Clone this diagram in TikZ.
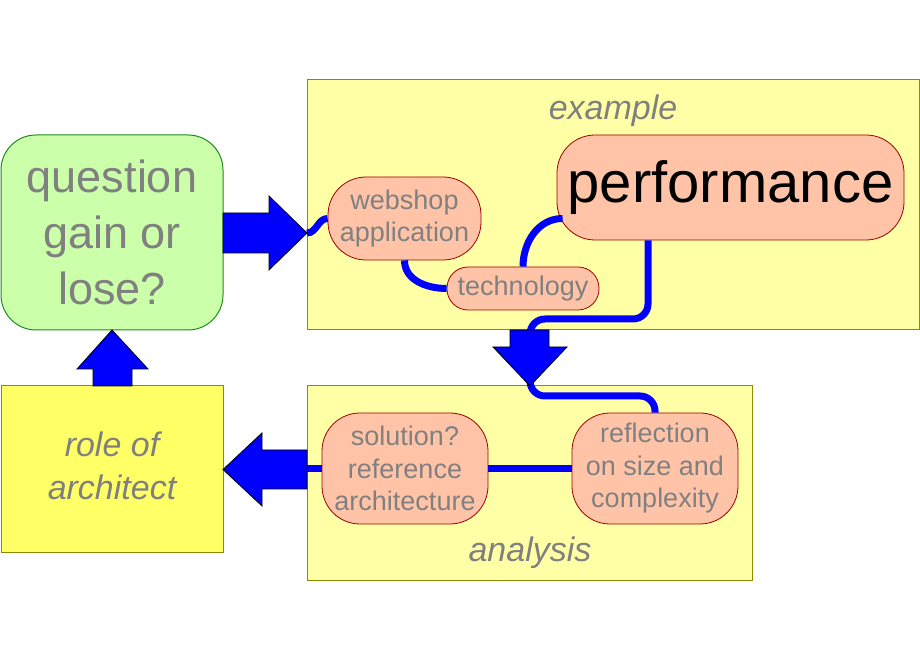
\documentclass[tikz,border=0pt]{standalone}
\usepackage{fontspec}
\setmainfont{Liberation Sans}
\usetikzlibrary{calc,positioning}
\definecolor{WireBlue}{HTML}{0000FF}
\definecolor{TextGray}{HTML}{808080}
\definecolor{QuestGreen}{HTML}{CCFFAA}
\definecolor{QuestEdge}{HTML}{1E8C1E}
\definecolor{PanelYellow}{HTML}{FFFFA5}
\definecolor{RoleYellow}{HTML}{FFFF66}
\definecolor{PanelEdge}{HTML}{8C8C00}
\definecolor{TopicFill}{HTML}{FFC4A8}
\definecolor{TopicEdge}{HTML}{A00000}
\tikzset{
  panel/.style={draw=PanelEdge,fill=PanelYellow,line width=1pt,inner sep=0pt},
  topic/.style={draw=TopicEdge,fill=TopicFill,line width=0.8pt,inner sep=0pt,align=center,
    text=TextGray,font=\fontsize{27}{32.5}\selectfont,rounded corners=38pt},
  wire/.style={WireBlue,line width=7pt},
  blockarrow/.style={fill=WireBlue,draw=black,line width=0.8pt,line join=miter},
}

\begin{document}
\begin{tikzpicture}[x=1pt,y=1pt]
  \useasboundingbox (0,0) rectangle (920,660);
  % --- panels ---
  \node[panel,minimum width=612pt,minimum height=250pt] (ex) at (613,455) {};
  \node[panel,minimum width=445pt,minimum height=195pt] (an) at (529.5,176.5) {};
  \node[font=\fontsize{34}{40}\selectfont\itshape,text=TextGray] (exlabel) at (613,549) {example};
  \node[font=\fontsize{34}{40}\selectfont\itshape,text=TextGray] (anlabel) at (530,107) {analysis};
  % --- question and role ---
  \node[draw=QuestEdge,fill=QuestGreen,line width=1pt,rounded corners=35pt,inner sep=0pt,
    minimum width=222pt,minimum height=195pt,align=center,text=TextGray,
    font=\fontsize{45}{56}\selectfont] (quest) at (112,427.5) {question\\gain or\\lose?};
  \node[panel,fill=RoleYellow,minimum width=222pt,minimum height=167pt] (role) at (112,190.5) {};
  \node[align=center,text=TextGray,font=\fontsize{34}{43}\selectfont\itshape] (rolelabel)
    at (112,194) {role of\\architect};
  % --- topics ---
  \node[topic,minimum width=153pt,minimum height=83pt] (web) at (404.5,441.5) {webshop\\application};
  \node[topic,rounded corners=21pt,minimum width=152pt,minimum height=43pt] (tech) at (523,371.5) {technology};
  \node[topic,minimum width=347pt,minimum height=105pt,text=black,
    font=\fontsize{58}{66}\selectfont] (perf) at (730.5,472.5) {performance};
  \node[topic,minimum width=166pt,minimum height=111pt] (sol) at (405,191.5) {solution?\\reference\\architecture};
  \node[topic,minimum width=166pt,minimum height=111pt] (refl) at (655,191.5) {reflection\\on size and\\complexity};
  % --- arrow ends ---
  \coordinate (tipR) at (307,427);
  \coordinate (tipD) at (530,274);
  \coordinate (tailL) at (307,191.5);
  % --- wires ---
  \draw[wire] (tipR) to[out=0,in=180] (web.west);
  \draw[wire] (web.south) to[out=-90,in=180] (tech.west);
  \draw[wire] (tech.north) to[out=90,in=180] ($(perf.west)+(6,-31)$);
  \draw[wire,rounded corners=15pt] ($(perf.south)+(-82.5,0)$) |- (530,341)
    -- (tipD |- 0,264) -| (refl.north);
  \draw[wire] (sol.east) -- (refl.west);
  \draw[wire] (tailL) -- (sol.west);
  % --- block arrows ---
  \draw[blockarrow] (223,407) -- (269,407) -- (269,390) -- (tipR) -- (269,464) -- (269,447) -- (223,447) -- cycle;
  \draw[blockarrow] (93,274) -- (93,291) -- (77,291) -- (112,330) -- (148,291) -- (132,291) -- (132,274) -- cycle;
  \draw[blockarrow] (tailL |- 0,171) -- (262,171) -- (262,154) -- (223,190.5) -- (262,227) -- (262,210) -- (307,210) -- cycle;
  \draw[blockarrow] (510,330) -- (510,313) -- (493,313) -- (tipD) -- (567,313) -- (549,313) -- (549,330) -- cycle;
\end{tikzpicture}
\end{document}
